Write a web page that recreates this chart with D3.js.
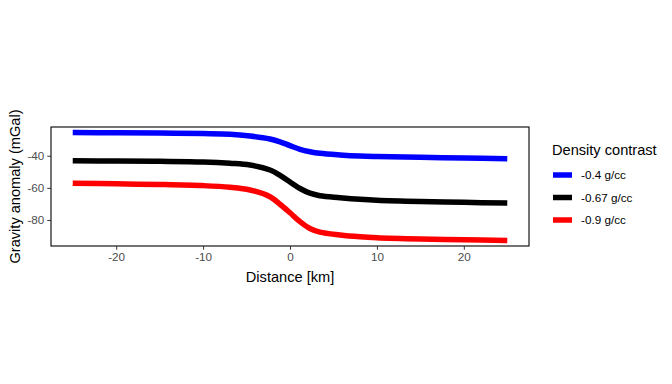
<!DOCTYPE html>
<html>
<head>
<meta charset="utf-8">
<script src="https://cdn.jsdelivr.net/npm/d3@7"></script>
<style>
  body { margin: 0; background: #fff; }
  text { font-family: "Liberation Sans", Arial, sans-serif; }
</style>
</head>
<body>
<svg id="chart" width="672" height="384"></svg>
<script>
// distance along profile (km)
var distance = [-25, -20, -15, -10, -6.9, -4.6, -2.3, -1.15, 0, 1.15, 2.3, 3.45, 5.75, 8.05, 10, 15, 20, 25];

// gravity anomaly (mGal) for each density contrast
var blueVals  = [-25.5, -25.7, -25.9, -26.2, -26.6, -27.7, -29.6, -31.3, -33.7, -36.0, -37.5, -38.5, -39.5, -40.2, -40.5, -41.0, -41.4, -41.9];
var blackVals = [-43.1, -43.3, -43.5, -43.9, -44.7, -45.8, -48.9, -52.2, -56.3, -60.4, -63.3, -64.9, -66.1, -67.1, -67.7, -68.5, -69.0, -69.5];
var redVals   = [-57.1, -57.5, -57.9, -58.6, -59.6, -61.3, -65.5, -70.2, -75.5, -81.0, -85.3, -87.6, -89.3, -90.4, -91.0, -91.8, -92.3, -92.8];

var seriesNames = ["-0.4 g/cc", "-0.67 g/cc", "-0.9 g/cc"];
var seriesColors = ["#0000ff", "#000000", "#ff0000"];
var xTicks = [-20, -10, 0, 10, 20];
var yTicks = [-40, -60, -80];

var svg = d3.select("#chart");

var panelLeft = 51, panelRight = 529, panelTop = 127, panelBottom = 246;

var x = d3.scaleLinear().domain([-27.5, 27.5]).range([panelLeft, panelRight]);
var y = d3.scaleLinear().domain([-96.2, -22.1]).range([panelBottom, panelTop]);

var allSeries = [blueVals, blackVals, redVals];

var line = d3.line()
    .x(function (d, i) { return x(distance[i]); })
    .y(function (d) { return y(d); })
    .curve(d3.curveCatmullRom);

svg.selectAll(".series")
    .data(allSeries)
    .enter()
    .append("path")
    .attr("class", "series")
    .attr("d", line)
    .attr("fill", "none")
    .attr("stroke", function (d, i) { return seriesColors[i]; })
    .attr("stroke-width", 5.5);

// panel border
svg.append("rect")
    .attr("x", panelLeft)
    .attr("y", panelTop)
    .attr("width", panelRight - panelLeft)
    .attr("height", panelBottom - panelTop)
    .attr("fill", "none")
    .attr("stroke", "#000")
    .attr("stroke-width", 1.1);

// axes
var fmt = function (d) { return String(d); };

var xAxis = svg.append("g")
    .attr("transform", "translate(0," + panelBottom + ")")
    .call(d3.axisBottom(x).tickValues(xTicks).tickFormat(fmt).tickSize(3.7).tickPadding(3));

var yAxis = svg.append("g")
    .attr("transform", "translate(" + panelLeft + ",0)")
    .call(d3.axisLeft(y).tickValues(yTicks).tickFormat(fmt).tickSize(3.7).tickPadding(3));

[xAxis, yAxis].forEach(function (ax) {
    ax.select(".domain").remove();
    ax.selectAll("line").attr("stroke", "#333");
    ax.selectAll("text")
        .attr("fill", "#4d4d4d")
        .style("font-size", "11.7px");
});

// axis titles
svg.append("text")
    .attr("x", (panelLeft + panelRight) / 2)
    .attr("y", 282)
    .attr("text-anchor", "middle")
    .style("font-size", "14.6px")
    .text("Distance [km]");

svg.append("text")
    .attr("transform", "translate(20," + (panelTop + panelBottom) / 2 + ") rotate(-90)")
    .attr("text-anchor", "middle")
    .style("font-size", "14.6px")
    .text("Gravity anomaly (mGal)");

// legend
var legend = svg.append("g");

legend.append("text")
    .attr("x", 552)
    .attr("y", 155)
    .style("font-size", "14.6px")
    .text("Density contrast");

var keys = legend.selectAll(".key")
    .data(seriesNames)
    .enter()
    .append("g")
    .attr("transform", function (d, i) { return "translate(0," + (175 + i * 22.5) + ")"; });

keys.append("line")
    .attr("x1", 553)
    .attr("x2", 572)
    .attr("stroke", function (d, i) { return seriesColors[i]; })
    .attr("stroke-width", 5.5);

keys.append("text")
    .attr("x", 581)
    .attr("y", 4)
    .style("font-size", "11.7px")
    .text(function (d) { return d; });
</script>
</body>
</html>
